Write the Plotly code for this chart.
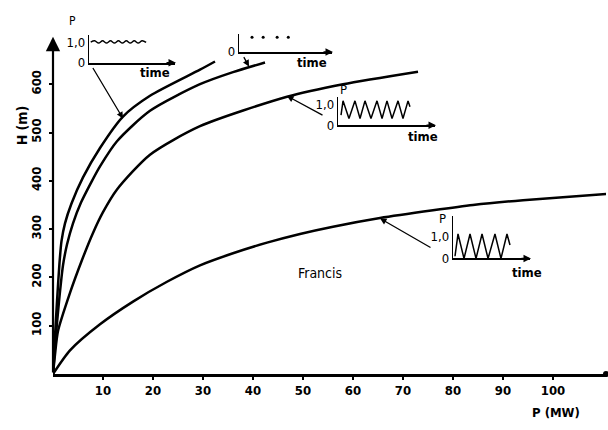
import plotly.graph_objects as go

# ---------------- data ----------------
# main curves: P (MW) vs H (m)
c1_p = [0, 0.3, 0.8, 1.3, 1.7, 2.4, 3.7, 6.0, 9.4, 14.0, 19.4, 29.4, 32.4]
c1_h = [0, 60, 150, 230, 275, 312, 353, 407, 468, 533, 576, 630, 647]

c2_p = [0, 0.5, 1.2, 2.0, 2.8, 4.0, 5.6, 7.8, 9.4, 12.8, 19.4, 29.4, 36.0, 42.4]
c2_h = [0, 70, 150, 225, 268, 312, 355, 400, 430, 482, 545, 600, 625, 645]

c3_p = [0, 0.4, 1.0, 3.4, 5.8, 8.0, 10.0, 12.8, 19.4, 29.4, 46.8, 58.0, 73.0]
c3_h = [0, 40, 89, 168, 236, 292, 335, 382, 454, 513, 574, 600, 626]

c4_p = [0, 3.4, 9.4, 16.0, 22.8, 29.4, 36.0, 42.8, 49.4, 56.0, 65.4, 76.0, 84.0, 94.0, 110.8]
c4_h = [0, 49, 103, 150, 191, 225, 250, 272, 290, 305, 323, 339, 350, 360, 373]

x_ticks = [10, 20, 30, 40, 50, 60, 70, 80, 90, 100]
y_ticks = [100, 200, 300, 400, 500, 600]

# inset sketches (relative power vs time)
in1_t = [0.02, 0.066, 0.112, 0.158, 0.204, 0.25, 0.296, 0.342, 0.388, 0.434, 0.48, 0.526, 0.572, 0.618, 0.664]
in1_v = [1.0, 1.06, 0.95, 1.06, 0.95, 1.06, 0.95, 1.06, 0.95, 1.06, 0.95, 1.06, 0.95, 1.06, 0.98]

in2_t = [0.14, 0.26, 0.41, 0.53]
in2_v = [1.0, 1.0, 1.0, 1.0]

in3_t = [0.031, 0.052, 0.113, 0.175, 0.227, 0.278, 0.340, 0.402, 0.454, 0.505, 0.557, 0.619, 0.670, 0.722, 0.742]
in3_v = [0.5, 1.19, 0.33, 1.19, 0.33, 1.19, 0.33, 1.19, 0.33, 1.19, 0.33, 1.19, 0.33, 1.19, 0.9]

in4_t = [0.026, 0.065, 0.143, 0.221, 0.299, 0.377, 0.455, 0.545, 0.623, 0.701, 0.740]
in4_v = [0.1, 1.09, 0.0, 1.09, 0.0, 1.09, 0.0, 1.09, 0.0, 1.09, 0.6]

# ---------------- figure ----------------
W, H = 608, 430
FONT = "DejaVu Sans Condensed"


def px(x):
    return x / W


def py(y):
    return 1 - y / H


fig = go.Figure()

for xs, ys in [(c1_p, c1_h), (c2_p, c2_h), (c3_p, c3_h), (c4_p, c4_h)]:
    fig.add_trace(go.Scatter(x=xs, y=ys, mode="lines",
                             line=dict(color="black", width=2.5, shape="spline", smoothing=0.7),
                             hoverinfo="skip", showlegend=False))

# end dot of x axis
fig.add_trace(go.Scatter(x=[110.6], y=[0], mode="markers", marker=dict(color="black", size=6),
                         cliponaxis=False, showlegend=False, hoverinfo="skip"))

# insets
insets = [
    ("x2", "y2", in1_t, in1_v, "lines", [89, 175], [35, 63], 1.33, [0, 1], ["0", "1,0"]),
    ("x3", "y3", in2_t, in2_v, "markers", [239, 332], [34, 52], 1.2, [0], ["0"]),
    ("x4", "y4", in3_t, in3_v, "lines", [338, 435], [98, 127], 1.38, [0, 1], ["0", "1,0"]),
    ("x5", "y5", in4_t, in4_v, "lines", [453, 530], [220, 263], 1.87, [0, 1], ["0", "1,0"]),
]

layout_axes = {}
for i, (xa, ya, t, v, mode, xr, yr, ytop, tv, tt) in enumerate(insets):
    if mode == "lines":
        shape = "spline" if i == 0 else "linear"
        fig.add_trace(go.Scatter(x=t, y=v, xaxis=xa, yaxis=ya, mode="lines",
                                 line=dict(color="black", width=1.5, shape=shape),
                                 cliponaxis=False, showlegend=False, hoverinfo="skip"))
    else:
        fig.add_trace(go.Scatter(x=t, y=v, xaxis=xa, yaxis=ya, mode="markers",
                                 marker=dict(color="black", size=3),
                                 cliponaxis=False, showlegend=False, hoverinfo="skip"))
    n = xa[1:]
    layout_axes["xaxis" + n] = dict(domain=[px(xr[0]), px(xr[1])], range=[0, 1], anchor="y" + n,
                                    showline=True, linecolor="black", linewidth=1.6,
                                    showgrid=False, zeroline=False, showticklabels=False, ticks="")
    layout_axes["yaxis" + n] = dict(domain=[py(yr[1]), py(yr[0])], range=[0, ytop], anchor="x" + n,
                                    showline=True, linecolor="black", linewidth=1.4,
                                    showgrid=False, zeroline=False, ticks="",
                                    tickvals=tv, ticktext=tt,
                                    tickfont=dict(family=FONT, size=13, color="black"))

fig.update_layout(
    width=W, height=H,
    margin=dict(l=0, r=0, t=0, b=0),
    paper_bgcolor="white", plot_bgcolor="white",
    xaxis=dict(domain=[px(53), px(606)], range=[0, 110.6], anchor="y",
               showline=True, linecolor="black", linewidth=2.5,
               showgrid=False, zeroline=False,
               tickvals=x_ticks, ticks="outside", ticklen=3, tickwidth=2, tickcolor="black",
               tickfont=dict(family=FONT, size=13, color="black", weight="bold")),
    yaxis=dict(domain=[py(381), py(10)], range=[0, 752], anchor="x",
               showline=False, showgrid=False, zeroline=False,
               tickvals=y_ticks, ticks="outside", ticklen=3, tickwidth=2, tickcolor="black",
               tickangle=-90, ticklabelstandoff=3,
               tickfont=dict(family=FONT, size=13, color="black", weight="bold")),
    **layout_axes,
)

ann = []
# main y axis with arrow
ann.append(dict(x=0, y=698, xref="x", yref="y", ax=0, ay=0, axref="x", ayref="y",
                showarrow=True, arrowhead=2, arrowsize=1.3, arrowwidth=2.2, arrowcolor="black", text=""))


def label(x, y, text, size=13, bold=False, angle=0):
    ann.append(dict(x=px(x), y=py(y), xref="paper", yref="paper", text=text, showarrow=False,
                    textangle=angle, xanchor="center", yanchor="middle",
                    font=dict(family=FONT, size=size, color="black", weight="bold" if bold else "normal")))


label(22, 127, "H (m)", size=14, bold=True, angle=-90)
label(556, 420, "P (MW)", size=13, bold=True)
label(320, 278, "Francis", size=14)
label(72, 20, "P", size=12)
label(343, 90, "P", size=13)
label(442, 222, "P", size=13)
for (x, y) in [(155, 73), (312, 63), (423, 138), (527, 277)]:
    label(x, y, "time", size=13, bold=True)


def arrow(tail, head, width=1.3):
    ann.append(dict(x=px(head[0]), y=py(head[1]), xref="paper", yref="paper",
                    ax=tail[0] - head[0], ay=tail[1] - head[1], axref="pixel", ayref="pixel",
                    showarrow=True, arrowhead=2, arrowsize=1.0, arrowwidth=width,
                    arrowcolor="black", text="", standoff=0, startstandoff=0))


# pointer arrows from insets to curves
arrow((92, 68), (123, 120))
arrow((243, 56), (249, 67))
arrow((324, 117), (287, 97))
arrow((432, 252), (380, 222))
# arrowheads at the ends of the inset time axes
arrow((165, 63), (176, 63), 1.5)
arrow((322, 52), (333, 52), 1.5)
arrow((425, 127), (436, 127), 1.5)
arrow((520, 263), (531, 263), 1.5)

fig.update_layout(annotations=ann)

post = (
    "document.documentElement.style.margin='0px';"
    "document.body.style.margin='0px';"
    "document.body.style.overflow='hidden';"
)
fig.write_html("out.html", config={"displayModeBar": False}, post_script=post)
